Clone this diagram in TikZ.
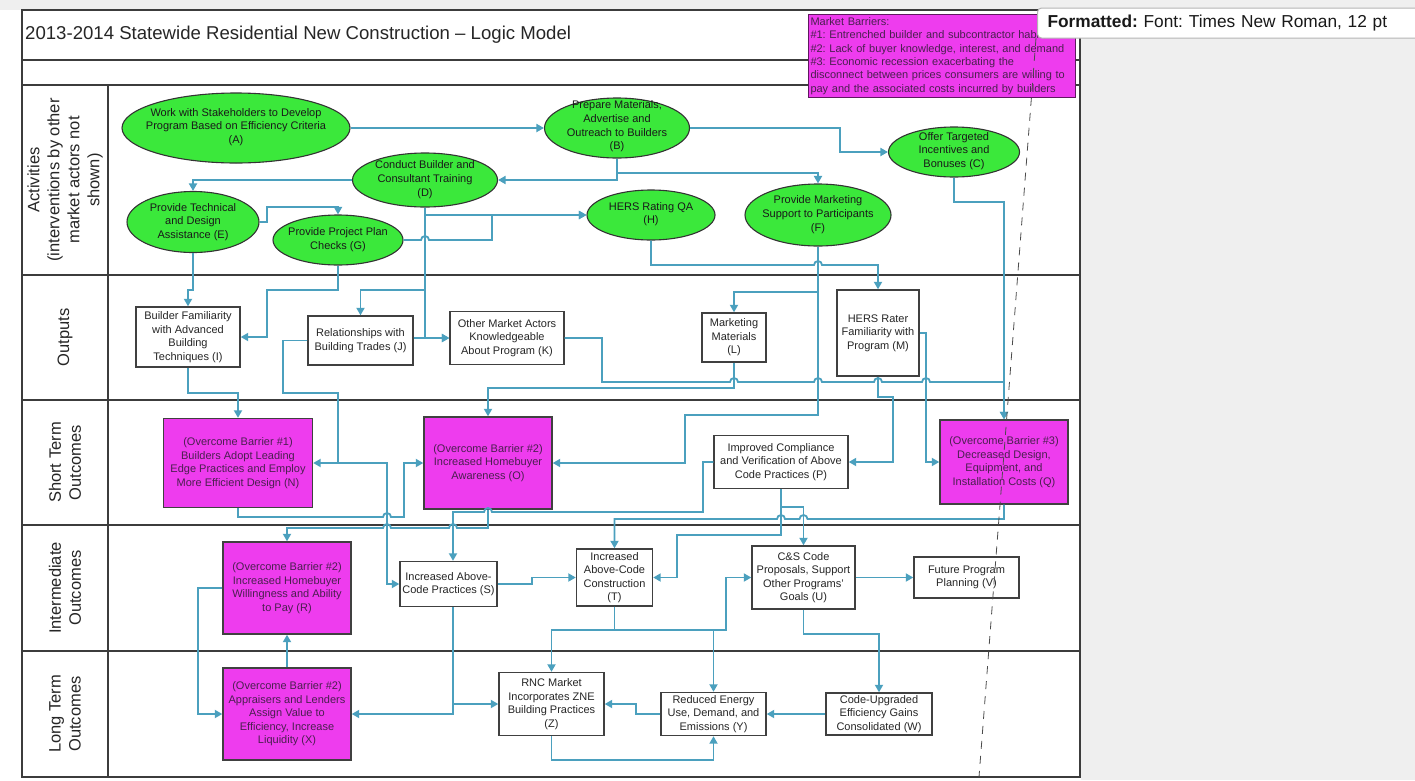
\documentclass[tikz,border=0pt]{standalone}
\usepackage{fontspec}
\setmainfont{Liberation Sans}
\usetikzlibrary{arrows.meta,shapes.geometric}
\frenchspacing

\definecolor{lineblue}{HTML}{4BA0BE}
\definecolor{boxmag}{HTML}{EE3CEE}
\definecolor{magtext}{HTML}{4A1F4F}
\definecolor{ellgreen}{HTML}{3BE83B}
\definecolor{framec}{HTML}{3C3C3C}
\definecolor{pagegray}{HTML}{EFEFEF}
\definecolor{balloonc}{HTML}{B4B4B4}

% line hop over a vertical connector: going right / going left
\newcommand\hopr[2]{-- ({#1-4},#2) arc[start angle=180,end angle=0,radius=4pt]}
\newcommand\hopl[2]{-- ({#1+4},#2) arc[start angle=0,end angle=180,radius=4pt]}

\tikzset{
  conn/.style={draw=lineblue,line width=1.8pt,-{Triangle[length=7.5pt,width=8pt]}},
  frameline/.style={draw=framec,line width=1.8pt},
  ell/.style={ellipse,draw=black!80,line width=1.1pt,fill=ellgreen,inner sep=0pt},
  etext/.style={font=\fontsize{11}{13.7}\selectfont,align=center,inner sep=0pt,text=black!90},
  wbox/.style={rectangle,draw=black!75,line width=1.4pt,fill=white,inner sep=0pt,
    font=\fontsize{11}{13.5}\selectfont,align=center,text=black!85},
  mbox/.style={wbox,fill=boxmag,text=magtext},
  rowlab/.style={rotate=90,font=\fontsize{16.5}{20}\selectfont,align=center,text=black!85},
  dashline/.style={draw=black!70,line width=0.8pt,dash pattern=on 8pt off 7pt},
}

\begin{document}
\begin{tikzpicture}[x=1pt,y=-1pt]
\useasboundingbox (0,0) rectangle (1415,780);

% page and surrounding
\fill[pagegray] (0,0) rectangle (1415,780);
\fill[white] (0,10) rectangle (1081,780);

% frame and swim lanes
\draw[frameline] (22,10) rectangle (1080,777);
\foreach \yy in {60,85,275,400,525,651} \draw[frameline] (22,\yy) -- (1080,\yy);
\draw[frameline] (108,85) -- (108,777);

\node[anchor=west,inner sep=0pt,font=\fontsize{18.6}{22}\selectfont,text=black!85] (title) at (25,35)
  {2013-2014 Statewide Residential New Construction – Logic Model};

% lane labels
\node[rowlab] (lanA) at (65,180) {Activities\\(interventions by other\\market actors not\\shown)};
\node[rowlab] (lanO) at (65,337.5) {Outputs};
\node[rowlab] (lanS) at (65,462.5) {Short Term\\Outcomes};
\node[rowlab] (lanI) at (65,588) {Intermediate\\Outcomes};
\node[rowlab] (lanL) at (65,714) {Long Term\\Outcomes};

% activities
\node[ell,minimum width=228,minimum height=70] (A) at (236,128) {};
\node[etext] (At) at (236,127) {Work with Stakeholders to Develop\\Program Based on Efficiency Criteria\\(A)};
\node[ell,minimum width=145,minimum height=60] (B) at (617,128) {};
\node[etext] (Bt) at (617,126.5) {Prepare Materials,\\Advertise and\\Outreach to Builders\\(B)};
\node[ell,minimum width=131,minimum height=50] (C) at (954,152) {};
\node[etext] (Ct) at (954,151) {Offer Targeted\\Incentives and\\Bonuses (C)};
\node[ell,minimum width=145,minimum height=54] (D) at (425,180) {};
\node[etext] (Dt) at (425,179.5) {Conduct Builder and\\Consultant Training\\(D)};
\node[ell,minimum width=132,minimum height=61] (E) at (193,222) {};
\node[etext] (Et) at (193,222) {Provide Technical\\and Design\\Assistance (E)};
\node[ell,minimum width=130,minimum height=50] (G) at (338,240) {};
\node[etext] (Gt) at (338,239.5) {Provide Project Plan\\Checks (G)};
\node[ell,minimum width=128,minimum height=50] (H) at (651,215) {};
\node[etext] (Ht) at (651,214) {HERS Rating QA\\(H)};
\node[ell,minimum width=146,minimum height=62] (F) at (818,215) {};
\node[etext] (Ft) at (818,214.5) {Provide Marketing\\Support to Participants\\(F)};

% outputs
\node[wbox,minimum width=104,minimum height=60] (I) at (188,337) {Builder Familiarity\\with Advanced\\Building\\Techniques (I)};
\node[wbox,minimum width=105,minimum height=49] (J) at (360.5,340.5) {Relationships with\\Building Trades (J)};
\node[wbox,minimum width=114,minimum height=53] (K) at (507,338) {Other Market Actors\\Knowledgeable\\About Program (K)};
\node[wbox,minimum width=64,minimum height=49] (L) at (734,337.5) {Marketing\\Materials\\(L)};
\node[wbox,minimum width=82,minimum height=86] (M) at (878,333) {HERS Rater\\Familiarity with\\Program (M)};

% short term outcomes
\node[mbox,minimum width=149,minimum height=89] (N) at (238,463) {(Overcome Barrier \#1)\\Builders Adopt Leading\\Edge Practices and Employ\\More Efficient Design (N)};
\node[mbox,minimum width=128,minimum height=92] (O) at (488,463) {(Overcome Barrier \#2)\\Increased Homebuyer\\Awareness (O)};
\node[wbox,minimum width=134,minimum height=53] (P) at (781,462) {Improved Compliance\\and Verification of Above\\Code Practices (P)};
\node[mbox,minimum width=128,minimum height=84] (Q) at (1004,462) {(Overcome Barrier \#3)\\Decreased Design,\\Equipment, and\\Installation Costs (Q)};

% intermediate outcomes
\node[mbox,minimum width=128,minimum height=92] (R) at (287,588) {(Overcome Barrier \#2)\\Increased Homebuyer\\Willingness and Ability\\to Pay (R)};
\node[wbox,minimum width=97,minimum height=45] (S) at (448.5,584) {Increased Above-\\Code Practices (S)};
\node[wbox,minimum width=76,minimum height=57] (T) at (614.5,577.5) {Increased\\Above-Code\\Construction\\(T)};
\node[wbox,minimum width=103,minimum height=63] (U) at (803.5,577.5) {C\&S Code\\Proposals, Support\\Other Programs'\\Goals (U)};
\node[wbox,minimum width=105,minimum height=41] (V) at (966.5,577.5) {Future Program\\Planning (V)};

% long term outcomes
\node[mbox,minimum width=128,minimum height=92] (X) at (287,714) {(Overcome Barrier \#2)\\Appraisers and Lenders\\Assign Value to\\Efficiency, Increase\\Liquidity (X)};
\node[wbox,minimum width=105,minimum height=63] (Z) at (551.5,704) {RNC Market\\Incorporates ZNE\\Building Practices\\(Z)};
\node[wbox,minimum width=105,minimum height=43] (Y) at (713.5,714) {Reduced Energy\\Use, Demand, and\\Emissions (Y)};
\node[wbox,minimum width=106,minimum height=42] (W) at (879,714) {Code-Upgraded\\Efficiency Gains\\Consolidated (W)};

% connectors: activities
\draw[conn] (A.east) -- (B.west);
\draw[conn] (B.east) -- (840,128) -- (840,152) -- (C.west);
\draw[conn] (B.south) -- (617,180) -- (D.east);
\draw[conn] (B.south) -- (617,173) -- (818,173) -- (F.north);
\draw[conn] (D.west) -- (193,180) -- (E.north);
\draw[conn] (E.east) -- (267,222) -- (267,207) -- (338,207) -- (G.north);
\draw[conn] (D.south) -- (425,215) -- (H.west);
\draw[conn] (G.east) \hopr{425}{240} -- (492,240) -- (492,215) -- (H.west);

% connectors: activities to outputs
\draw[conn] (E.south) -- (193,290) -- (188,290) -- (I.north);
\draw[conn] (G.south) -- (338,290) -- (267,290) -- (267,337) -- (I.east);
\draw[conn] (D.south) -- (425,290) -- (360.5,290) -- (J.north);
\draw[conn] (D.south) -- (425,338) -- (K.west);
\draw[conn] (J.east |- K.west) -- (K.west);
\draw[conn] (H.south) -- (651,265) \hopr{818}{265} -- (878,265) -- (M.north);
\draw[conn] (F.south) -- (818,292) -- (734,292) -- (L.north);
\draw[conn] (C.south) -- (954,202) -- (1004,202) -- (Q.north);

% connectors: outputs to short term outcomes
\draw[conn] (I.south) -- (188,393) -- (238,393) -- (N.north);
\draw[conn] (J.west) -- (283,340.5) -- (283,393) -- (338,393) -- (338,463) -- (N.east);
\draw[conn] (J.west) -- (283,340.5) -- (283,393) -- (338,393) -- (338,463) -- (387,463) -- (387,584) -- (S.west);
\draw[conn] (K.east) -- (602,338) -- (602,382) \hopr{734}{382} \hopr{818}{382} \hopr{878}{382} \hopr{926}{382} -- (1004,382) -- (Q.north);
\draw[conn] (L.south) -- (734,388) -- (488,388) -- (O.north);
\draw[conn] (F.south) -- (818,415) -- (685,415) -- (685,463) -- (O.east);
\draw[conn] (M.south) -- (878,397) -- (893,397) -- (893,462) -- (P.east);
\draw[conn] (M.east) -- (926,333) -- (926,462) -- (Q.west);

% connectors: short term to intermediate outcomes
\draw[conn] (N.south) -- (238,517) \hopr{387}{517} -- (404,517) -- (404,463) -- (O.west);
\draw[conn] (O.south) -- (488,528) \hopl{453}{528} \hopl{387}{528} -- (287,528) -- (R.north);
\draw[conn] (P.west) -- (703,462) -- (703,512) \hopl{488}{512} -- (453,512) -- ([xshift=4.5pt]S.north);
\draw[conn] (P.south) -- (781,507) -- (803.5,507) -- (U.north);
\draw[conn] (P.south) -- (781,535) -- (677,535) -- (677,577.5) -- (T.east);
\draw[conn] (Q.south) -- (1004,519) \hopl{803.5}{519} \hopl{781}{519} -- (614.5,519) -- (T.north);

% connectors: intermediate and long term outcomes
\draw[conn] (S.east) -- (532,584) -- (532,577.5) -- (T.west);
\draw[conn] (T.south) -- (614.5,630) -- (551.5,630) -- (Z.north);
\draw[conn] (T.south) -- (614.5,630) -- (713.5,630) -- (Y.north);
\draw[conn] (T.south) -- (614.5,630) -- (726,630) -- (726,577.5) -- (U.west);
\draw[conn] (U.east) -- (V.west);
\draw[conn] (U.south) -- (803.5,634) -- (879,634) -- (W.north);
\draw[conn] (W.west) -- (Y.east);
\draw[conn] (Y.west) -- (636,714) -- (636,704) -- (Z.east);
\draw[conn] (Z.south) -- (551.5,760) -- (713.5,760) -- (Y.south);
\draw[conn] ([xshift=4.5pt]S.south) -- (453,704) -- (Z.west);
\draw[conn] ([xshift=4.5pt]S.south) -- (453,714) -- (X.east);
\draw[conn] (X.north) -- (R.south);
\draw[conn] (R.west) -- (198,588) -- (198,714) -- (X.west);

% market barriers note
\node[anchor=north west,draw=black!60!boxmag,line width=1pt,fill=boxmag,text=magtext,
      minimum width=267,minimum height=83,inner sep=2pt,text width=263,align=left,
      font=\fontsize{11}{13.3}\selectfont] (mb) at (808,14)
  {Market Barriers:\\
   \#1: Entrenched builder and subcontractor habits\\
   \#2: Lack of buyer knowledge, interest, and demand\\
   \#3: Economic recession exacerbating the\\
   disconnect between prices consumers are willing to\\
   pay and the associated costs incurred by builders};

% revision comment balloon and its leader
\draw[dashline] (1036,38) -- (979,777);
\node[anchor=west,draw=balloonc,line width=1pt,fill=white,rounded corners=4pt,
      minimum height=30,inner xsep=10pt,text width=400,align=left,
      font=\fontsize{17.3}{19}\selectfont,text=black!90] (fmt) at (1037,23)
  {\textbf{Formatted:} Font: Times New Roman, 12 pt};
\end{tikzpicture}
\end{document}
